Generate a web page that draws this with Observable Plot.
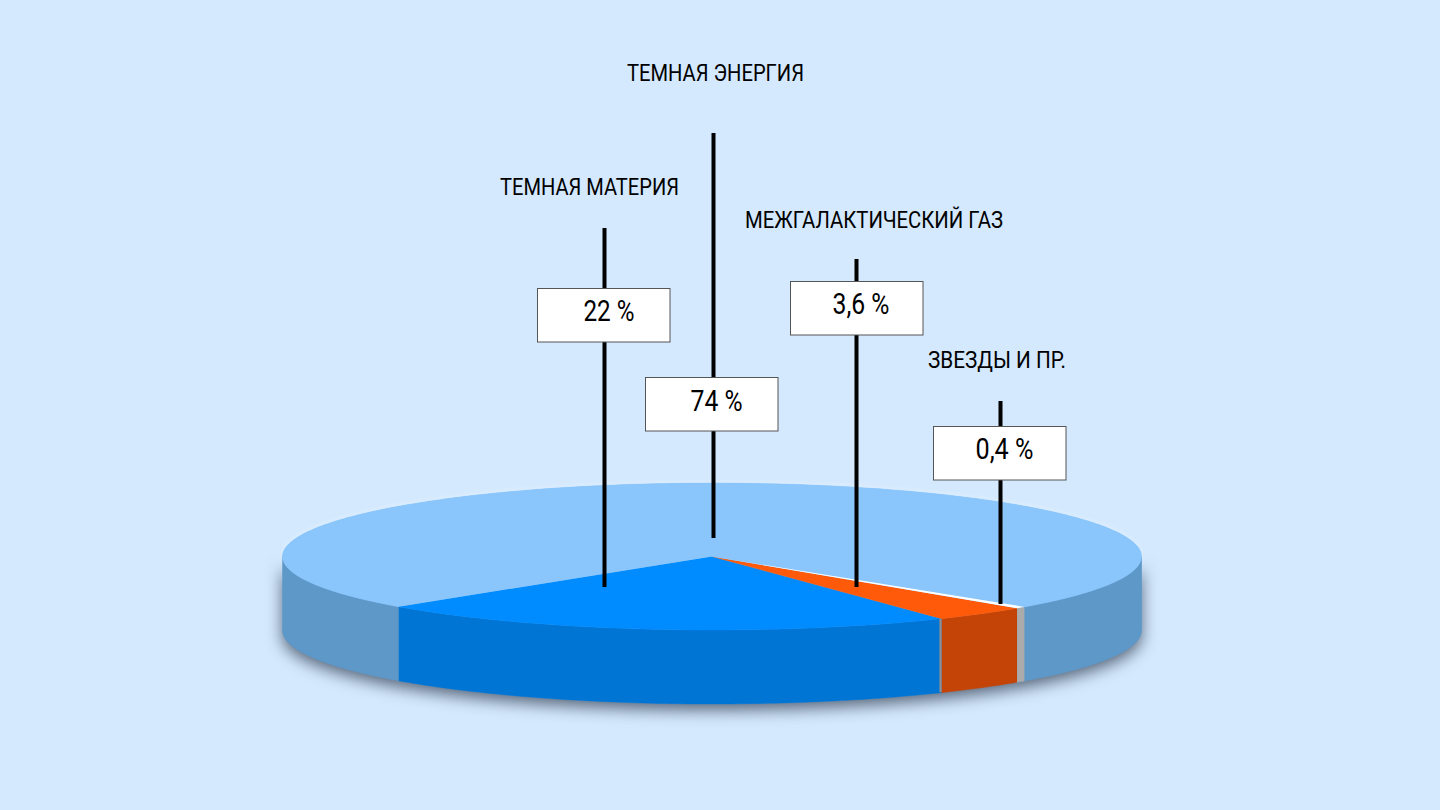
<!DOCTYPE html>
<html lang="ru">
<head>
<meta charset="utf-8">
<title>Состав Вселенной</title>
<script src="https://cdn.jsdelivr.net/npm/d3@7"></script>
<script src="https://cdn.jsdelivr.net/npm/@observablehq/plot@0.6"></script>
<style>
  html, body { margin: 0; padding: 0; background: #D4E9FE; overflow: hidden; }
  #chart svg { display: block; background: #D4E9FE; }
</style>
</head>
<body>
<div id="chart"></div>
<script>
// Data
const categories = ["ТЕМНАЯ МАТЕРИЯ", "МЕЖГАЛАКТИЧЕСКИЙ ГАЗ", "ЗВЕЗДЫ И ПР.", "ТЕМНАЯ ЭНЕРГИЯ"];
const shares = [22, 3.6, 0.4, 74];
const valueLabels = ["22 %", "3,6 %", "0,4 %", "74 %"];

// Colours
const topColors = ["#008CFF", "#FF5A0A", "#FFFFFF", "#8AC6FB"];
const sideColors = ["#0075D4", "#C44306", "#ABABAB", "#5E98C8"];

// Layout of the callouts, in the chart's 1440 x 810 units
const leaderX = [604, 856, 1000, 713];
const leaderTop = [228, 259, 401, 133];
const leaderBottom = [587, 587, 604, 538];
const boxLeft = [537.5, 790.5, 933.5, 645.5];
const boxTop = [288.5, 281.5, 426.5, 377.5];
const boxW = 132.5, boxH = 53.5;
const valueX = [608.5, 860.5, 1004, 716];
const valueY = [310.5, 303.5, 448.5, 400.5];
const valueW = [51, 57, 58, 52];
const nameX = [589, 873.5, 996.5, 715];
const nameY = [187, 220, 360, 73];
const nameW = [179, 258, 138, 177];

// Pie geometry
const cx = 711.5, cy = 556, rx = 429.5, ry = 73.5, depth = 74;
const startDeg = 136.9;   // on-screen ellipse angle where the first slice begins
const rad = Math.PI / 180;
const total = d3.sum(shares);

let running = startDeg;
const slices = categories.map((name, i) => {
  const a0 = running;
  const a1 = running - shares[i] / total * 360;
  running = a1;
  return {name, i, a0, a1};
});

const rim = (a, dy = 0) => ({x: cx + rx * Math.cos(a * rad), y: cy + ry * Math.sin(a * rad) + dy});
function arc(a0, a1, dy = 0) {
  const n = Math.max(2, Math.ceil(Math.abs(a0 - a1)));
  return d3.range(n + 1).map(k => rim(a0 + (a1 - a0) * k / n, dy));
}

// Top faces
const topFaces = slices.map(s => [{x: cx, y: cy}, ...arc(s.a0, s.a1)]);

// Side walls: only the part of each slice on the front half of the ellipse
function wall(a0, a1) {
  return [...arc(a0, a1), ...arc(a1, a0, depth)];
}
function sideWalls(s) {
  const out = [];
  for (const [lo, hi] of [[0, 180], [-360, -180]]) {
    const from = Math.min(s.a0, hi), to = Math.max(s.a1, lo);
    if (from > to) out.push(wall(from, to));
  }
  return out;
}

const disc = [...arc(0, 180), ...arc(180, 360).slice(1, -1)];
const body = wall(0, 180);

const polyMark = (pts, options) => Plot.line(pts, {x: "x", y: "y", curve: "linear", ...options});

const marks = [
  polyMark(body, {fill: "#5E98C8", stroke: "none", imageFilter: "drop-shadow(0 6px 8px rgba(20,30,50,.65))"}),
  polyMark(disc, {fill: "#8AC6FB", stroke: "none", imageFilter: "drop-shadow(0 -1px 3px rgba(255,255,255,.3))"})
];

for (const s of slices) {
  for (const w of sideWalls(s)) {
    marks.push(polyMark(w, {fill: sideColors[s.i], stroke: sideColors[s.i], strokeWidth: 0.4}));
  }
}

// Thin grey seam between the dark matter and gas walls
const seam = rim(slices[1].a0);
marks.push(Plot.ruleX([seam.x - 1], {y1: seam.y, y2: seam.y + depth, stroke: "#8E9093", strokeWidth: 2.2}));

for (const s of slices) {
  if (s.i !== 2) marks.push(polyMark(topFaces[s.i], {fill: topColors[s.i], stroke: topColors[s.i], strokeWidth: 0.4}));
}
marks.push(polyMark(topFaces[2], {fill: topColors[2], stroke: "none"}));

const callouts = categories.map((name, i) => ({
  name, value: valueLabels[i],
  lx: leaderX[i], lt: leaderTop[i], lb: leaderBottom[i],
  bl: boxLeft[i], bt: boxTop[i], vx: valueX[i], vy: valueY[i], nx: nameX[i], ny: nameY[i]
}));

const font = "Roboto, sans-serif";
marks.push(
  Plot.ruleX(callouts, {x: "lx", y1: "lt", y2: "lb", stroke: "#000", strokeWidth: 4}),
  Plot.rect(callouts, {
    x1: "bl", x2: d => d.bl + boxW, y1: "bt", y2: d => d.bt + boxH,
    fill: "#fff", stroke: "#555", strokeWidth: 1, inset: 0
  }),
  Plot.text(callouts, {x: "vx", y: "vy", text: "value", fontSize: 30, fontFamily: font, fill: "#000", textAnchor: "middle", lineAnchor: "middle"}),
  Plot.text(callouts, {x: "nx", y: "ny", text: "name", fontSize: 24.5, fontFamily: font, fill: "#000", textAnchor: "middle", lineAnchor: "middle"})
);

const chart = Plot.plot({
  width: 1440, height: 810,
  margin: 0,
  style: {background: "#D4E9FE"},
  x: {domain: [0, 1440], range: [0, 1440], axis: null},
  y: {domain: [0, 810], range: [0, 810], axis: null},
  marks
});
document.getElementById("chart").append(chart);

// The reference uses a condensed typeface: squeeze the glyphs to its measured widths
const targetWidth = new Map([
  ...valueLabels.map((t, i) => [t, valueW[i]]),
  ...categories.map((t, i) => [t, nameW[i]])
]);
chart.querySelectorAll("text").forEach(el => {
  const w = targetWidth.get(el.textContent);
  if (w) {
    el.setAttribute("textLength", w);
    el.setAttribute("lengthAdjust", "spacingAndGlyphs");
  }
});
</script>
</body>
</html>
